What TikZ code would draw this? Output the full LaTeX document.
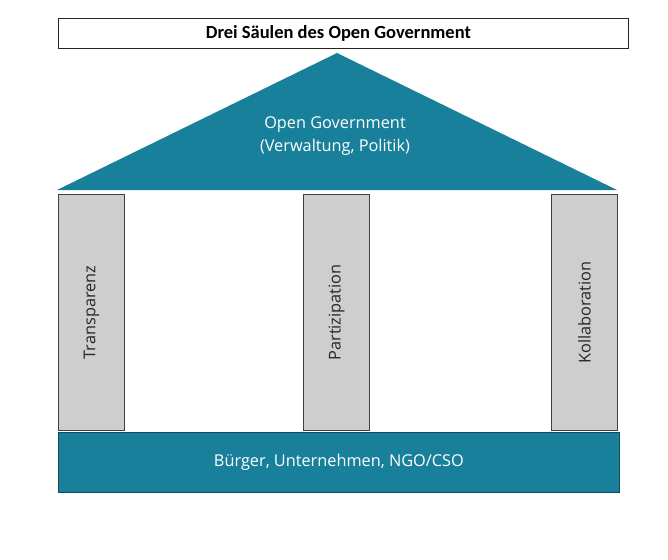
\documentclass[tikz,border=0pt]{standalone}
\usepackage{xcolor}
\usepackage{fontspec}
\setmainfont{Open Sans}
\newfontfamily\titlefont{Carlito}
\usepackage{tikz}
\usetikzlibrary{positioning}
\definecolor{govteal}{RGB}{25,128,156}
\definecolor{pillargray}{RGB}{206,206,206}

\begin{document}
\begin{tikzpicture}[x=1pt, y=-1pt,
	pillar/.style={draw=black!75, fill=pillargray, line width=1pt, inner sep=0pt,
		minimum width=66pt, minimum height=236pt, anchor=north west},
	pillartext/.style={rotate=90, font=\fontsize{16.3}{19}\selectfont, text=black!85}]
	\useasboundingbox (0,0) rectangle (668,559);
	\node[draw=black!85, line width=0.8pt, minimum width=570pt, minimum height=30pt, inner sep=0pt,
		anchor=north west, font=\titlefont\bfseries\fontsize{18.5}{21}\selectfont] (title) at (58,18)
		{\hspace*{-10pt}Drei Säulen des Open Government};
	\fill[govteal] (57,190) -- (337,53) -- (617,190) -- cycle;
	\node[text=white, align=center, font=\fontsize{16.3}{23}\selectfont] (roof) at (335,136)
		{Open Government\\(Verwaltung, Politik)};
	\node[pillar] (transparenz) at (58,194) {};
	\node[pillar] (partizipation) at (303,194) {};
	\node[pillar] (kollaboration) at (551,194) {};
	\node[pillartext] at (transparenz.center) {Transparenz};
	\node[pillartext] at (partizipation.center) {Partizipation};
	\node[pillartext] at (kollaboration.center) {Kollaboration};
	\node[draw=black!40!govteal, fill=govteal, line width=0.8pt, minimum width=561pt, minimum height=60pt,
		inner sep=0pt, anchor=north west, text=white, font=\fontsize{16.3}{19}\selectfont] (base) at (58,432)
		{Bürger, Unternehmen, NGO/CSO};
\end{tikzpicture}
\end{document}
